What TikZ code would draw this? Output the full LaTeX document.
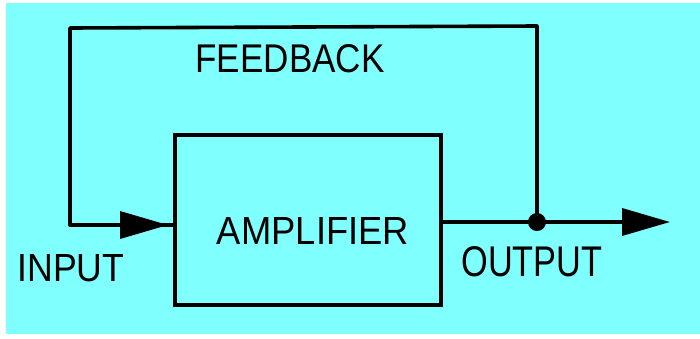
\documentclass[tikz,border=0pt]{standalone}
\usepackage{fontspec}
\setmainfont{Liberation Sans}
\usetikzlibrary{arrows.meta}
\definecolor{bgcyan}{RGB}{128,255,255}
\newcommand{\fittext}[3]{\resizebox{#1}{#2}{#3}}
\begin{document}
\begin{tikzpicture}[x=1pt,y=-1pt,
  wire/.style={line width=3.6pt,line cap=round,line join=round},
  head/.style={-{Triangle[length=48pt,width=27pt]}},
  lbl/.style={inner sep=0pt,anchor=center}]
\useasboundingbox (0,0) rectangle (700,338);
\fill[white] (0,0) rectangle (700,338);
\fill[bgcyan] (6,3) rectangle (700,334);
% amplifier box
\node[draw,line width=3.6pt,minimum width=266pt,minimum height=170pt,inner sep=0pt] (amp) at (308,220) {};
\node[lbl] (ampl) at (313,230.5) {\fittext{192pt}{27pt}{AMPLIFIER}};
% coordinates
\coordinate (inl) at (70,225);
\coordinate (tl) at (70,28);
\coordinate (tr) at (537,26);
\coordinate (j) at (537,222);
\coordinate (intip) at (168,225);
\coordinate (outtip) at (670,222);
% feedback loop and input
\draw[wire] (j) -- (tr) -- (tl) -- (inl) -- (intip);
\draw[wire,head] (inl) -- (intip);
\draw[wire] (intip) -- (amp.west |- intip);
% output
\draw[wire] (amp.east |- j) -- (j);
\draw[wire,head] (j) -- (outtip);
\fill (j) circle (9pt);
% labels
\node[lbl] (fb) at (290,59) {\fittext{189pt}{28pt}{FEEDBACK}};
\node[lbl] (inp) at (71,268.5) {\fittext{107pt}{27pt}{INPUT}};
\node[lbl] (outp) at (532,262) {\fittext{141pt}{30pt}{OUTPUT}};
\end{tikzpicture}
\end{document}
